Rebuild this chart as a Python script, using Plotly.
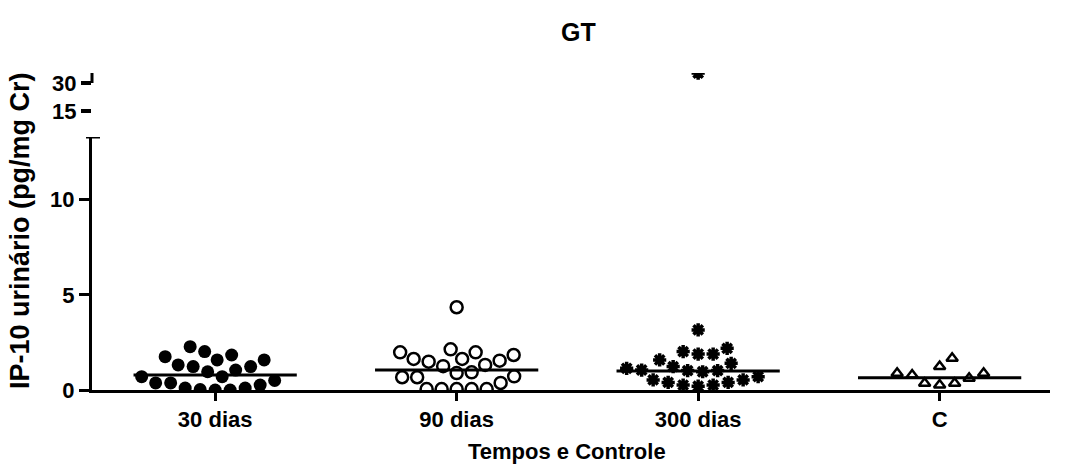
import plotly.graph_objects as go
import numpy as np

categories = ["30 dias", "90 dias", "300 dias", "C"]

v30 = [2.28, 2.02, 1.84, 1.75, 1.58, 1.58, 1.32, 1.23, 1.23, 1.05, 0.96,
       0.70, 0.70, 0.50, 0.37, 0.37, 0.26, 0.10, 0.10, 0.02, 0.0, 0.0]
v90 = [4.35, 2.14, 1.98, 1.98, 1.84, 1.63, 1.63, 1.54, 1.49, 1.32, 1.25,
       0.93, 0.89, 0.72, 0.67, 0.67, 0.37, 0.05, 0.05, 0.05, 0.05, 0.05]
v300 = [3.16, 2.19, 2.02, 1.89, 1.89, 1.58, 1.40, 1.23, 1.14, 1.05, 1.02,
        1.02, 0.96, 0.70, 0.53, 0.53, 0.40, 0.40, 0.26, 0.26, 0.20]
v300_high = [35.3]
vC = [1.67, 1.23, 0.88, 0.88, 0.79, 0.62, 0.35, 0.35, 0.26]
medians = [0.79, 1.05, 1.00, 0.65]

FONT = "Arial, Liberation Sans, sans-serif"

# pixel scales used for the swarm layout
PX_X = 241.5
PX_Y = 19.0


def swarm(vals, dmin=15.0):
    order = np.argsort(vals)
    placed = []
    offs = [0.0] * len(vals)
    for i in order:
        yv = vals[i] * PX_Y
        best = None
        for k in range(0, 600):
            for dx in ([0.0] if k == 0 else [k * 0.5, -k * 0.5]):
                ok = True
                for (px, py) in placed:
                    if (px - dx) ** 2 + (py - yv) ** 2 < dmin ** 2:
                        ok = False
                        break
                if ok:
                    best = dx
                    break
            if best is not None:
                break
        placed.append((best, yv))
        offs[i] = best / PX_X
    return offs


fig = go.Figure()

groups = [
    (v30, dict(symbol="circle", size=13, color="black")),
    (v90, dict(symbol="circle-open", size=12, color="black", line=dict(width=2.5, color="black"))),
    (v300, dict(symbol="asterisk-open", size=11, color="black", line=dict(width=3.5, color="black"))),
    (vC, dict(symbol="triangle-up-open", size=10, color="black", line=dict(width=2.5, color="black"))),
]

for ci, (vals, mk) in enumerate(groups):
    offs = swarm(vals)
    fig.add_trace(go.Scatter(
        x=[ci + o for o in offs], y=vals, mode="markers",
        marker=mk, showlegend=False, xaxis="x", yaxis="y"))

fig.add_trace(go.Scatter(
    x=[2] * len(v300_high), y=v300_high, mode="markers",
    marker=groups[2][1], showlegend=False, xaxis="x", yaxis="y2"))

for ci, m in enumerate(medians):
    fig.add_trace(go.Scatter(
        x=[ci - 0.338, ci + 0.338], y=[m, m], mode="lines",
        line=dict(color="black", width=3), showlegend=False,
        xaxis="x", yaxis="y"))

# layout geometry
L, R, T, B = 92, 17, 73, 80
H = 470 - T - B
W = 1067 - L - R
y_low_top = 137
y_up_bot = 113

fig.update_layout(
    width=1067, height=470,
    margin=dict(l=L, r=R, t=T, b=B),
    paper_bgcolor="white", plot_bgcolor="white",
    font=dict(family=FONT, color="black"),
    xaxis=dict(
        range=[-0.51, 3.457], tickvals=[0, 1, 2, 3], ticktext=categories,
        showline=True, linewidth=3, linecolor="black", ticks="outside",
        ticklen=8, tickwidth=3, tickcolor="black", showgrid=False,
        zeroline=False, anchor="y",
        tickfont=dict(size=22, family=FONT, weight="bold")),
    yaxis=dict(
        domain=[0, (390 - y_low_top) / H], range=[0, 13.3],
        tickvals=[0, 5, 10], showline=True, linewidth=3, linecolor="black",
        ticks="outside", ticklen=10, tickwidth=3, tickcolor="black",
        showgrid=False, zeroline=False, anchor="x",
        tickfont=dict(size=22, family=FONT, weight="bold")),
    yaxis2=dict(
        domain=[(390 - y_up_bot) / H, 1], range=[13.93, 35.35],
        tickvals=[15, 30], showline=False,
        ticks="outside", ticklen=10, tickwidth=4, tickcolor="black",
        showgrid=False, zeroline=False, anchor="x",
        tickfont=dict(size=22, family=FONT, weight="bold")),
)

# break-axis decorations
fig.add_shape(type="line", xref="paper", yref="y2", x0=0, x1=0, y0=30, y1=35.35,
              line=dict(color="black", width=3))
fig.add_shape(type="line", xref="paper", yref="y", x0=-6 / W, x1=8 / W, y0=13.3, y1=13.3,
              line=dict(color="black", width=3))

fig.add_annotation(text="<b>GT</b>", xref="paper", yref="paper",
                   x=(578 - L) / W, y=(390 - 32) / H, showarrow=False,
                   xanchor="center", yanchor="middle",
                   font=dict(size=25, family=FONT))
fig.add_annotation(text="<b>Tempos e Controle</b>", xref="paper", yref="paper",
                   x=(567 - L) / W, y=(390 - 451) / H, showarrow=False,
                   xanchor="center", yanchor="middle",
                   font=dict(size=22, family=FONT))
fig.add_annotation(text="<b>IP-10 urinário (pg/mg Cr)</b>", xref="paper", yref="paper",
                   x=(20 - L) / W, y=(390 - 231) / H, showarrow=False, textangle=-90,
                   xanchor="center", yanchor="middle",
                   font=dict(size=27, family=FONT))

fig.write_html("out.html", config={"displayModeBar": False},
               post_script="document.body.style.margin='0px';")
